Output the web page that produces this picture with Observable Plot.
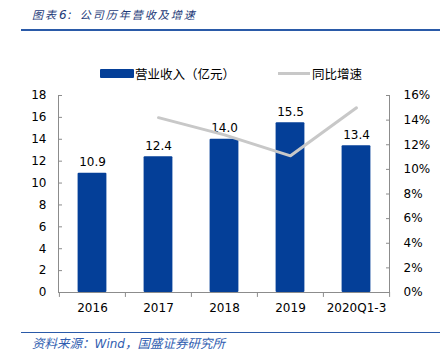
<!DOCTYPE html>
<html>
<head>
<meta charset="utf-8">
<script src="https://cdn.jsdelivr.net/npm/d3@7"></script>
<script src="https://cdn.jsdelivr.net/npm/@observablehq/plot@0.6"></script>
<style>
  html, body { margin: 0; padding: 0; background: #fff; }
  #wrap { position: relative; width: 443px; height: 363px; overflow: hidden; font-family: "DejaVu Sans", "Noto Sans CJK SC", sans-serif; }
  #title { position: absolute; left: 32px; top: 6px; font-size: 11px; letter-spacing: 2px; font-style: italic; color: #1d3a78; font-family: "Noto Sans CJK SC", sans-serif; white-space: nowrap; }
  #title .num { font-family: "DejaVu Sans", sans-serif; font-size: 12px; letter-spacing: 1px; margin-left: 1px; margin-right: 7px; }
  #tline { position: absolute; left: 21px; top: 29px; width: 419px; height: 2px; background: #2a5aa8; }
  #chart { position: absolute; left: 0; top: 40px; }
  #cline { position: absolute; left: 21px; top: 332px; width: 419px; height: 1px; background: #2a5aa8; }
  #caption { position: absolute; left: 32px; top: 333px; font-size: 12.5px; font-style: italic; color: #2f5db0; font-family: "Noto Sans CJK SC", sans-serif; white-space: nowrap; }
  #caption .lat { font-family: "DejaVu Sans", sans-serif; font-size: 12px; }
  .leg { position: absolute; top: 64px; font-size: 12.5px; font-family: "Noto Sans CJK SC", sans-serif; color: #000; display: flex; align-items: center; white-space: nowrap; }
  .sw-bar { width: 34px; height: 9px; background: #043f98; border-radius: 1px; margin-right: 1px; }
  .sw-line { width: 32px; height: 3px; background: #c8c8c8; margin-right: 2px; }
</style>
</head>
<body>
<div id="wrap">
  <div id="title">图表<span class="num">6:</span>公司历年营收及增速</div>
  <div id="tline"></div>
  <div class="leg" style="left:100px"><div class="sw-bar"></div>营业收入（亿元）</div>
  <div class="leg" style="left:278px"><div class="sw-line"></div>同比增速</div>
  <div id="chart"></div>
  <div id="cline"></div>
  <div id="caption">资料来源：<span class="lat">Wind</span>，国盛证券研究所</div>
</div>
<script>
const categories = ["2016", "2017", "2018", "2019", "2020Q1-3"];
const revenue = [10.9, 12.4, 14.0, 15.5, 13.4];
const growthCategories = ["2017", "2018", "2019", "2020Q1-3"];
const growth = [14.2, 12.8, 11.1, 15.0];
const leftTicks = [0, 2, 4, 6, 8, 10, 12, 14, 16, 18];
const rightTicks = [0, 2, 4, 6, 8, 10, 12, 14, 16];

const leftMax = 18, rightMax = 16;
const k = leftMax / rightMax;

const barData = categories.map((c, i) => ({cat: c, rev: revenue[i]}));
const lineData = growthCategories.map((c, i) => ({cat: c, g: growth[i]}));

const width = 443, height = 280;
const marginLeft = 58, marginRight = 54;
const step = (width - marginLeft - marginRight) / categories.length;
const barW = 29;
const inset = (step - barW) / 2;
const axisColor = "#8c8c8c";

const chart = Plot.plot({
  width, height,
  marginLeft, marginRight, marginTop: 55, marginBottom: 28,
  x: {domain: categories, padding: 0, axis: null, label: null},
  y: {domain: [0, leftMax], axis: null, label: null},
  style: {fontFamily: "DejaVu Sans, sans-serif", fontSize: "11px", color: "#000", background: "transparent"},
  marks: [
    Plot.barY(barData, {x: "cat", y: "rev", fill: "#043f98", insetLeft: inset, insetRight: inset, rx: 1}),
    Plot.text(barData, {x: "cat", y: "rev", text: d => d.rev.toFixed(1), dy: -11, fontSize: 12, fill: "#000"}),
    Plot.line(lineData, {x: "cat", y: d => d.g * k, stroke: "#c8c8c8", strokeWidth: 3}),
    Plot.frame({anchor: "left", stroke: axisColor}),
    Plot.frame({anchor: "right", stroke: axisColor}),
    Plot.frame({anchor: "bottom", stroke: axisColor}),
    Plot.ruleX(categories, {x: d => d, y1: 0, y2: -0.45, dx: -step / 2, stroke: axisColor}),
    Plot.ruleX(categories.slice(-1), {x: d => d, y1: 0, y2: -0.45, dx: step / 2, stroke: axisColor}),
    Plot.axisY(leftTicks, {anchor: "left", label: null, tickSize: 4, dx: 4, tickPadding: 12, stroke: axisColor, fontSize: 12, fill: "#000"}),
    Plot.axisY(rightTicks.map(t => t * k), {anchor: "right", label: null, tickSize: 4, dx: -4, tickPadding: 14, stroke: axisColor, fontSize: 12, fill: "#000", tickFormat: d => Math.round(d / k) + "%"}),
    Plot.axisX({anchor: "bottom", label: null, tickSize: 0, tickPadding: 11, fontSize: 12, fill: "#000"})
  ]
});
document.getElementById("chart").appendChild(chart);
</script>
</body>
</html>
